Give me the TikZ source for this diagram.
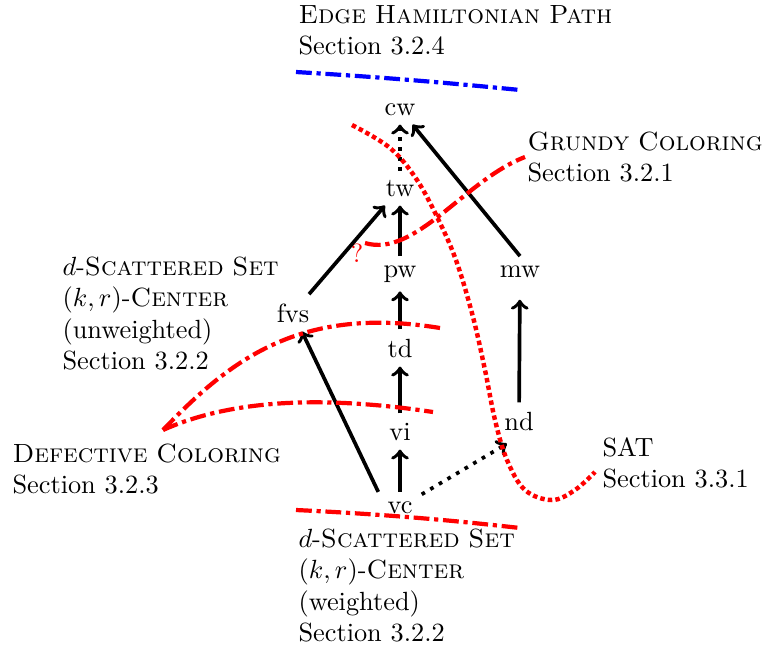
\documentclass[tikz,border=0pt]{standalone}
\begin{document}
\begin{tikzpicture}[x=0.38pt,y=-0.38pt,
  vert/.style={inner sep=3.33pt, anchor=base},
  lbl/.style={inner sep=0pt, anchor=base west, align=left, text width=200pt},
  arr/.style={->, line width=1.4pt},
  darr/.style={->, line width=1.4pt, dash pattern=on 1.4pt off 2.4pt},
  ddash/.style={ultra thick, dash pattern=on 6pt off 1.8pt on 1.6pt off 1.8pt},
  rdot/.style={red, line width=1.7pt, dash pattern=on 1.7pt off 1.2pt}]
\useasboundingbox (0,0) rectangle (763,652);
% complexity nodes
\node[vert] (cw) at (400,115) {cw};
\node[vert] (tw) at (400,196) {tw};
\node[vert] (pw) at (400,277) {pw};
\node[vert] (td) at (400,357) {td};
\node[vert] (vi) at (400,440) {vi};
\node[vert] (vc) at (400,513) {vc};
\node[vert] (fvs) at (293,322) {fvs};
\node[vert] (mw) at (520,277) {mw};
\node[vert] (nd) at (519,430) {nd};
% labels
\node[lbl] (ehp) at (298,23) {\textsc{Edge Hamiltonian Path}\\Section 3.2.4};
\node[lbl] (grundy) at (527,150) {\textsc{Grundy Coloring}\\Section 3.2.1};
\node[lbl] (dssu) at (62,275) {$d$-\textsc{Scattered Set}\\$(k,r)$-\textsc{Center}\\(unweighted)\\Section 3.2.2};
\node[lbl] (defc) at (12,462) {\textsc{Defective Coloring}\\Section 3.2.3};
\node[lbl] (sat) at (602,456) {SAT\\Section 3.3.1};
\node[lbl] (dssw) at (298,547) {$d$-\textsc{Scattered Set}\\$(k,r)$-\textsc{Center}\\(weighted)\\Section 3.2.2};
\node[red, inner sep=0pt, anchor=base] (q) at (357,262) {?};
% arrows
\draw[darr] (tw) -- (cw);
\draw[arr] (pw) -- (tw);
\draw[arr] (td) -- (pw);
\draw[arr] (vi) -- (td);
\draw[arr] (vc) -- (vi);
\draw[arr] (vc.north west) -- (fvs);
\draw[arr] (fvs) -- (tw);
\draw[arr] (mw.north) -- (cw);
\draw[arr, shorten >=5pt] (nd) -- (mw);
\draw[darr, shorten >=3pt] (vc) -- ([xshift=-2pt]nd.south);
% separating curves
\draw[ddash, blue] (296,72) .. controls (380,77) and (450,83) .. (520,90);
\draw[ddash, red] (365,243) .. controls (415,258) and (465,180) .. (525,157);
\draw[ddash, red] (163,430) .. controls (230,360) and (300,305) .. (440,328);
\draw[ddash, red] (163,430) .. controls (230,400) and (320,395) .. (433,412);
\draw[ddash, red] (296,510) .. controls (380,514) and (450,520) .. (520,528);
\draw[rdot] plot[smooth, tension=0.6] coordinates {(352,125) (390,148) (417,180) (440,223) (457,263) (473,317) (485,370) (495,420) (507,460) (525,490) (552,500) (575,490) (595,472)};
\end{tikzpicture}
\end{document}
